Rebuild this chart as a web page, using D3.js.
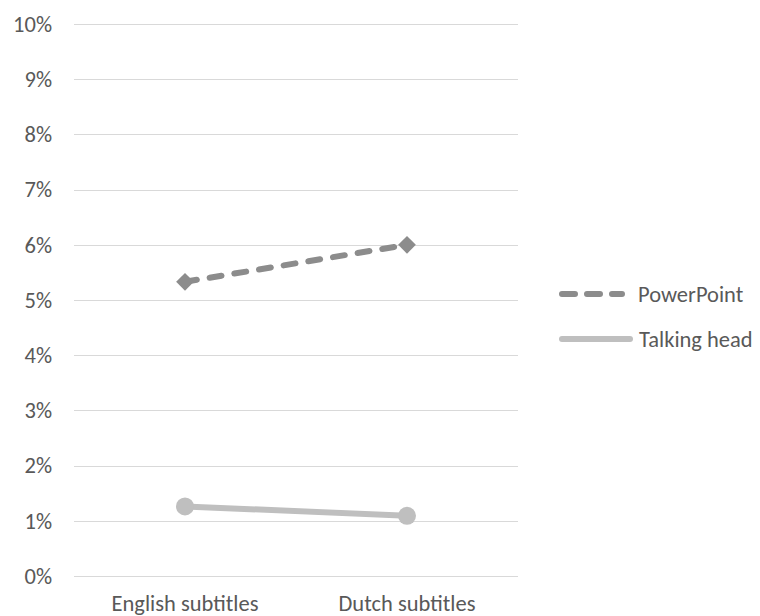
<!DOCTYPE html>
<html>
<head>
<meta charset="utf-8">
<script src="https://cdn.jsdelivr.net/npm/d3@7"></script>
<style>
  html, body { margin: 0; padding: 0; background: #ffffff; }
  svg text { font-family: Carlito, Lato, "Open Sans", sans-serif; fill: #595959; }
</style>
</head>
<body>
<svg id="chart" width="760" height="616"></svg>
<script>
// Categories and series values (percent)
const categories = ["English subtitles", "Dutch subtitles"];
const powerPoint = [5.33, 6.0];
const talkingHead = [1.26, 1.09];
const yTicks = [0, 1, 2, 3, 4, 5, 6, 7, 8, 9, 10];
const seriesNames = ["PowerPoint", "Talking head"];

const FONT = "Carlito, Lato, 'Open Sans', sans-serif";
const FS = 22.5;

const svg = d3.select("#chart");
const plot = { left: 74, right: 518, top: 24, bottom: 576 };

const x = d3.scaleBand().domain(categories).range([plot.left, plot.right]);
const y = d3.scaleLinear().domain([0, 10]).range([plot.bottom, plot.top]);

// Horizontal gridlines
svg.append("g")
  .selectAll("line")
  .data(yTicks)
  .join("line")
  .attr("x1", plot.left)
  .attr("x2", plot.right)
  .attr("y1", d => Math.round(y(d)) + 0.5)
  .attr("y2", d => Math.round(y(d)) + 0.5)
  .attr("stroke", "#d9d9d9")
  .attr("stroke-width", 1);

// Y axis labels
const yAxis = d3.axisLeft(y).tickValues(yTicks).tickFormat(d => d + "%").tickSize(0).tickPadding(0);
const yg = svg.append("g").attr("transform", `translate(${plot.left - 22},0)`).call(yAxis);
yg.select(".domain").remove();
yg.selectAll("text").attr("font-size", FS).attr("fill", "#595959").style("font-family", FONT);

// X axis labels
const xAxis = d3.axisBottom(x).tickSize(0).tickPadding(0);
const xg = svg.append("g").attr("transform", `translate(0,${plot.bottom + 19})`).call(xAxis);
xg.select(".domain").remove();
xg.selectAll("text").attr("font-size", FS).attr("fill", "#595959").style("font-family", FONT);

const cx = d => x(d) + x.bandwidth() / 2;
const line = d3.line().x(d => cx(d.c)).y(d => y(d.v));

const ppData = categories.map((c, i) => ({ c, v: powerPoint[i] }));
const thData = categories.map((c, i) => ({ c, v: talkingHead[i] }));

// Talking head series: solid light gray with circle markers
svg.append("path").datum(thData)
  .attr("d", line).attr("fill", "none")
  .attr("stroke", "#bfbfbf").attr("stroke-width", 6).attr("stroke-linecap", "round");
svg.append("g").selectAll("circle").data(thData).join("circle")
  .attr("cx", d => cx(d.c)).attr("cy", d => y(d.v)).attr("r", 9)
  .attr("fill", "#bfbfbf");

// PowerPoint series: dashed dark gray with diamond markers
svg.append("path").datum(ppData)
  .attr("d", line).attr("fill", "none")
  .attr("stroke", "#8c8c8c").attr("stroke-width", 6)
  .attr("stroke-dasharray", "12,13").attr("stroke-linecap", "round");
const diamond = d3.symbol().type(d3.symbolDiamond2).size(200);
svg.append("g").selectAll("path").data(ppData).join("path")
  .attr("d", diamond)
  .attr("transform", d => `translate(${cx(d.c)},${y(d.v)})`)
  .attr("fill", "#8c8c8c");

// Legend
const legend = svg.append("g");
const legendItems = [
  { name: seriesNames[0], color: "#8c8c8c", dash: "13,12", y: 294, x1: 562, x2: 622, tx: 638 },
  { name: seriesNames[1], color: "#bfbfbf", dash: null, y: 339, x1: 562, x2: 630, tx: 639 }
];
legendItems.forEach(it => {
  legend.append("line")
    .attr("x1", it.x1).attr("x2", it.x2).attr("y1", it.y).attr("y2", it.y)
    .attr("stroke", it.color).attr("stroke-width", 6).attr("stroke-linecap", "round")
    .attr("stroke-dasharray", it.dash);
  legend.append("text")
    .attr("x", it.tx).attr("y", it.y).attr("dy", "0.35em")
    .attr("font-size", FS).text(it.name);
});
</script>
</body>
</html>
